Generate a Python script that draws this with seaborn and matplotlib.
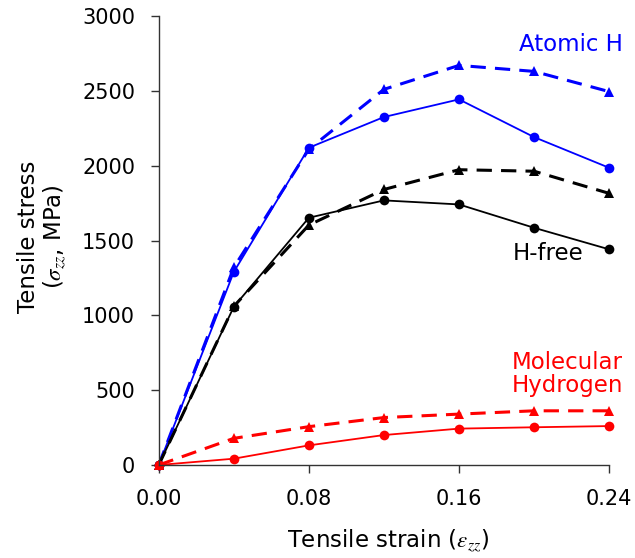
import matplotlib
matplotlib.use("Agg")
import matplotlib.pyplot as plt
import seaborn as sns
import pandas as pd

# tensile strain points
strain = [0.00, 0.04, 0.08, 0.12, 0.16, 0.20, 0.24]

# stress (MPa), circles = solid, triangles = dashed
atomic_solid = [0, 1290, 2120, 2325, 2443, 2191, 1986]
atomic_dash = [0, 1320, 2110, 2510, 2670, 2630, 2495]
hfree_solid = [0, 1057, 1652, 1768, 1741, 1585, 1441]
hfree_dash = [0, 1060, 1603, 1841, 1973, 1963, 1815]
mol_solid = [0, 42, 131, 200, 243, 252, 260]
mol_dash = [0, 178, 256, 317, 340, 362, 362]

x_ticks = [0.00, 0.08, 0.16, 0.24]
y_ticks = [0, 500, 1000, 1500, 2000, 2500, 3000]

sns.set_style("ticks")
plt.rcParams['font.family'] = ['DejaVu Sans']
plt.rcParams['mathtext.fontset'] = 'stix'
plt.rcParams['font.size'] = 15
for k in ['text.color', 'axes.labelcolor', 'xtick.labelcolor', 'ytick.labelcolor']:
    plt.rcParams[k] = 'black'

fig = plt.figure(figsize=(6.35, 5.58), dpi=100)
ax = fig.add_axes([0.25, 0.1667, 0.724, 0.818])

series = [
    (atomic_solid, 'blue', 'o', '-', 1.3, 7),
    (atomic_dash, 'blue', '^', (0, (5, 3)), 2.2, 7),
    (hfree_solid, 'black', 'o', '-', 1.3, 7),
    (hfree_dash, 'black', '^', (0, (5, 3)), 2.2, 7),
    (mol_solid, 'red', 'o', '-', 1.3, 7),
    (mol_dash, 'red', '^', (0, (5, 3)), 2.2, 7),
]
for vals, col, mk, ls, lw, ms in series:
    df = pd.DataFrame({'strain': strain, 'stress': vals})
    sns.lineplot(data=df, x='strain', y='stress', ax=ax, color=col,
                 marker=mk, linestyle=ls, linewidth=lw, markersize=ms,
                 markeredgewidth=0, clip_on=False)

ax.set_xlim(0, 0.245)
ax.set_ylim(0, 3050)
ax.set_xticks(x_ticks)
ax.set_xticklabels([f'{t:.2f}' for t in x_ticks])
ax.set_yticks(y_ticks)
ax.spines['left'].set_bounds(0, 3000)
ax.spines['bottom'].set_bounds(0, 0.24)
sns.despine(ax=ax)
for s in ['left', 'bottom']:
    ax.spines[s].set_color('#333333')
    ax.spines[s].set_linewidth(1.0)
ax.tick_params(direction='out', length=6, width=1.0, color='#333333', pad=11,
               labelsize=15)

ax.set_xlabel(r'Tensile strain ($\epsilon_{zz}$)', labelpad=13, fontsize=16.5)
ax.set_ylabel('Tensile stress\n' + r'($\sigma_{zz}$, MPa)', labelpad=10,
              fontsize=16.5, linespacing=1.05)

ax.text(0.2475, 2810, 'Atomic H', color='blue', ha='right', va='center',
        fontsize=16.5)
ax.text(0.2265, 1415, 'H-free', color='black', ha='right', va='center',
        fontsize=16.5)
ax.text(0.2475, 610, 'Molecular\nHydrogen', color='red', ha='right', va='center',
        multialignment='right', linespacing=1.0, fontsize=16.5)

fig.savefig('out.png', dpi=100)
